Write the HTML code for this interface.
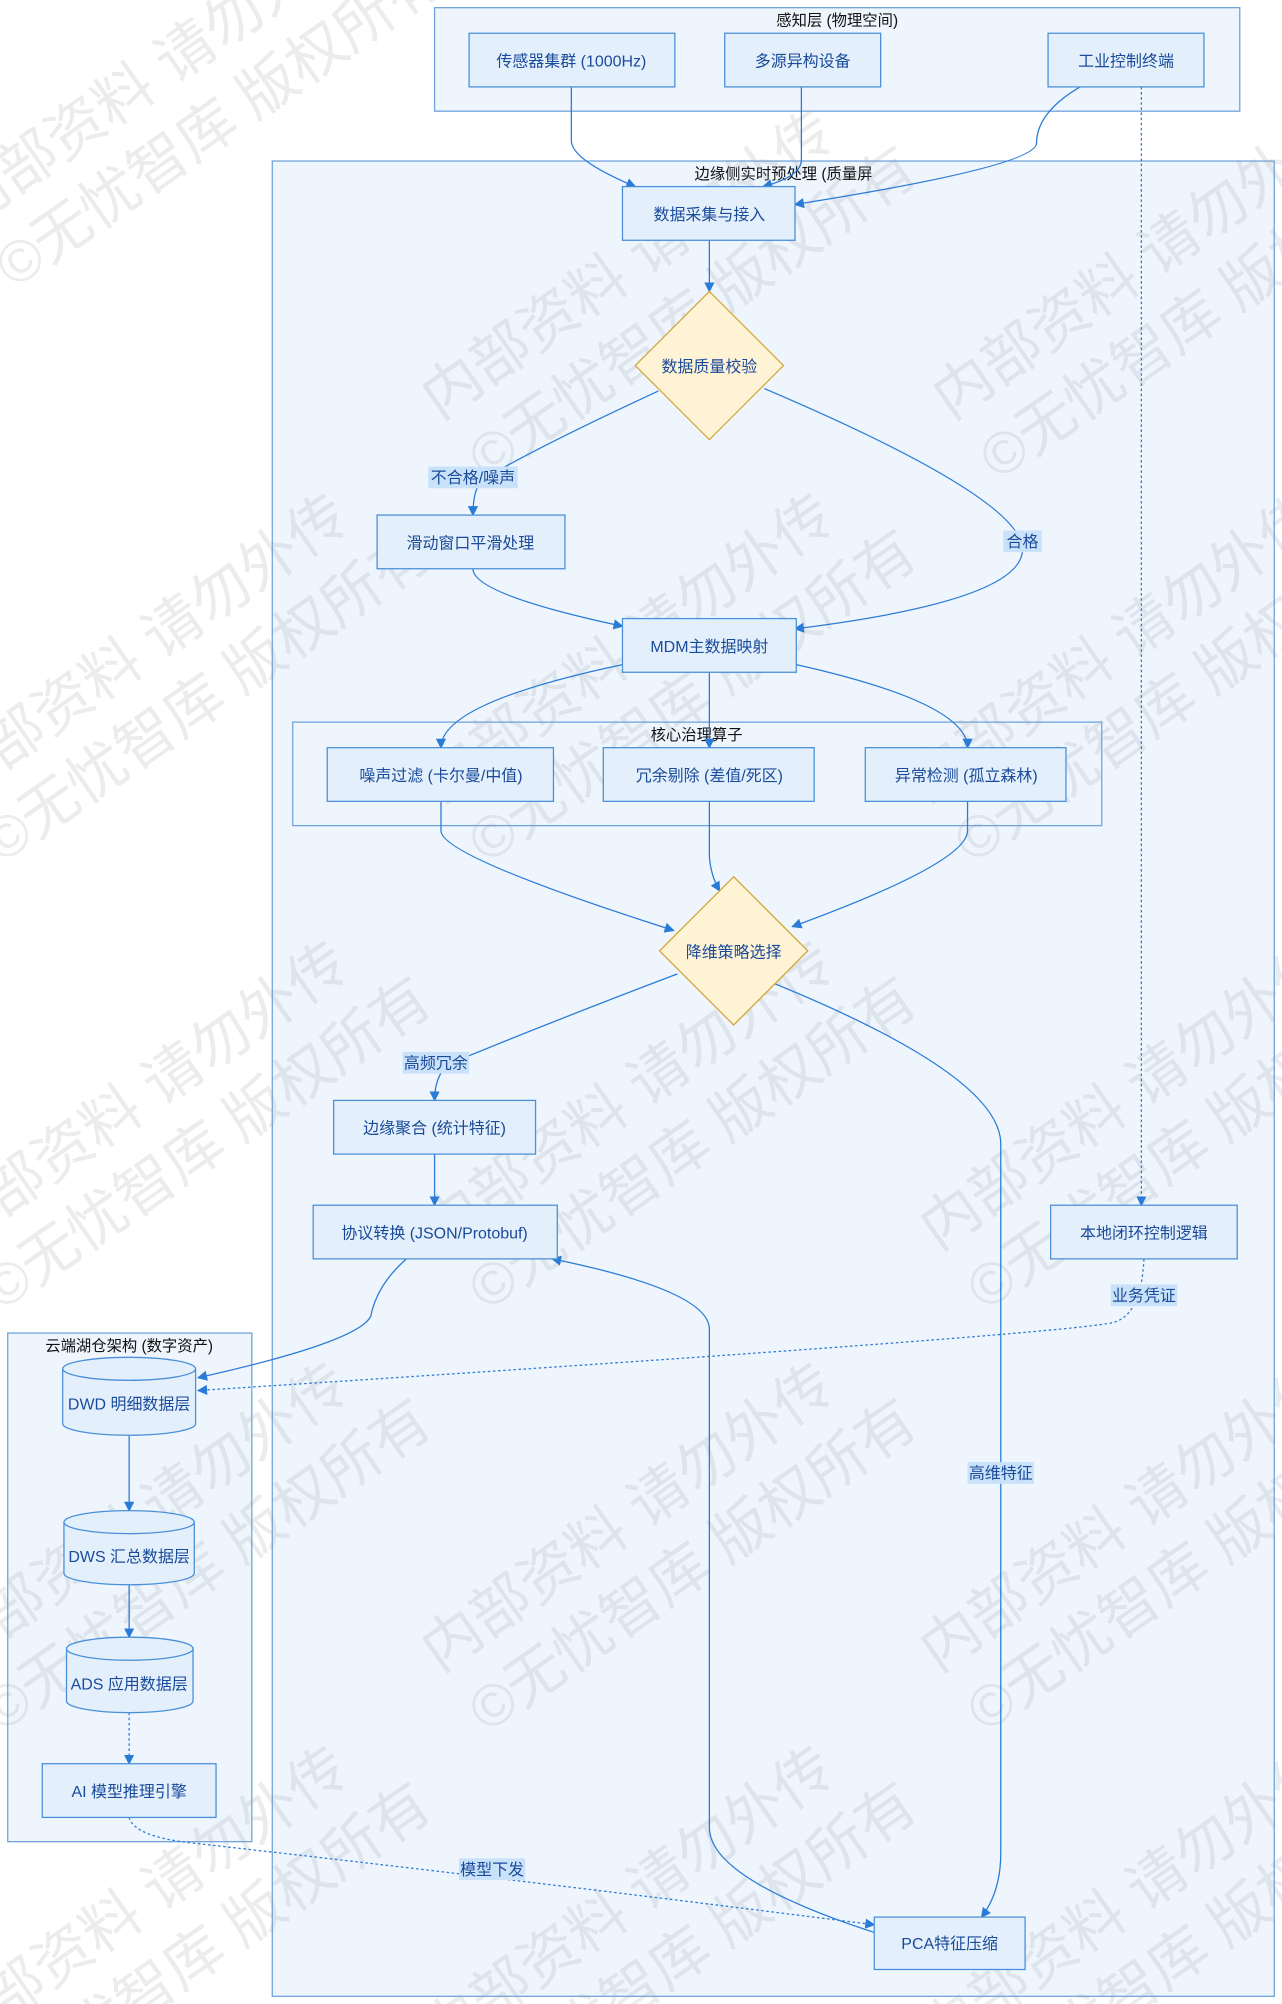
<!DOCTYPE html>
<html><head><meta charset="utf-8"><style>
html,body{margin:0;padding:0;background:#fff;width:1282px;height:2004px;overflow:hidden;}
svg{display:block;}
text{font-family:"Liberation Sans","Noto Sans CJK SC",sans-serif;}
</style></head><body>
<svg width="1282" height="2004" viewBox="0 0 1003 1568" xmlns="http://www.w3.org/2000/svg" style="overflow:hidden">
<defs>
<marker id="a" markerWidth="8" markerHeight="8" refX="7" refY="4" orient="auto" markerUnits="userSpaceOnUse"><path d="M0,0 L8,4 L0,8 z" fill="#2a7bd6"/></marker>
</defs>
<rect x="340" y="6" width="630" height="81" fill="#eef5fd" stroke="#6fa3dc" stroke-width="1"/>
<text x="655" y="20" font-size="12" text-anchor="middle" fill="#111">感知层 (物理空间)</text>
<rect x="213" y="126" width="784" height="1436" fill="#eef5fd" stroke="#6fa3dc" stroke-width="1"/>
<text x="613" y="140" font-size="12" text-anchor="middle" fill="#111">边缘侧实时预处理 (质量屏</text>
<rect x="229" y="565" width="633" height="81" fill="#eef5fd" stroke="#6fa3dc" stroke-width="1"/>
<text x="545" y="579" font-size="12" text-anchor="middle" fill="#111">核心治理算子</text>
<rect x="6" y="1043" width="191" height="398" fill="#eef5fd" stroke="#6fa3dc" stroke-width="1"/>
<text x="101" y="1057" font-size="12" text-anchor="middle" fill="#111">云端湖仓架构 (数字资产)</text>

<g font-size="46" fill="#9aa0a8" fill-opacity="0.2" text-anchor="middle">
<g transform="translate(130,70) rotate(-35)"><text x="0" y="0">内部资料 请勿外传</text><text x="20" y="60">©无忧智库 版权所有</text></g>
<g transform="translate(500,220) rotate(-35)"><text x="0" y="0">内部资料 请勿外传</text><text x="20" y="60">©无忧智库 版权所有</text></g>
<g transform="translate(900,220) rotate(-35)"><text x="0" y="0">内部资料 请勿外传</text><text x="20" y="60">©无忧智库 版权所有</text></g>
<g transform="translate(120,520) rotate(-35)"><text x="0" y="0">内部资料 请勿外传</text><text x="20" y="60">©无忧智库 版权所有</text></g>
<g transform="translate(500,520) rotate(-35)"><text x="0" y="0">内部资料 请勿外传</text><text x="20" y="60">©无忧智库 版权所有</text></g>
<g transform="translate(880,520) rotate(-35)"><text x="0" y="0">内部资料 请勿外传</text><text x="20" y="60">©无忧智库 版权所有</text></g>
<g transform="translate(120,870) rotate(-35)"><text x="0" y="0">内部资料 请勿外传</text><text x="20" y="60">©无忧智库 版权所有</text></g>
<g transform="translate(500,870) rotate(-35)"><text x="0" y="0">内部资料 请勿外传</text><text x="20" y="60">©无忧智库 版权所有</text></g>
<g transform="translate(890,870) rotate(-35)"><text x="0" y="0">内部资料 请勿外传</text><text x="20" y="60">©无忧智库 版权所有</text></g>
<g transform="translate(120,1200) rotate(-35)"><text x="0" y="0">内部资料 请勿外传</text><text x="20" y="60">©无忧智库 版权所有</text></g>
<g transform="translate(500,1200) rotate(-35)"><text x="0" y="0">内部资料 请勿外传</text><text x="20" y="60">©无忧智库 版权所有</text></g>
<g transform="translate(890,1200) rotate(-35)"><text x="0" y="0">内部资料 请勿外传</text><text x="20" y="60">©无忧智库 版权所有</text></g>
<g transform="translate(120,1500) rotate(-35)"><text x="0" y="0">内部资料 请勿外传</text><text x="20" y="60">©无忧智库 版权所有</text></g>
<g transform="translate(500,1500) rotate(-35)"><text x="0" y="0">内部资料 请勿外传</text><text x="20" y="60">©无忧智库 版权所有</text></g>
<g transform="translate(890,1500) rotate(-35)"><text x="0" y="0">内部资料 请勿外传</text><text x="20" y="60">©无忧智库 版权所有</text></g>
</g>

<g fill="none" stroke="#2a7bd6" stroke-width="1">
<path d="M447,68 L447,110 Q447,125 497,146" marker-end="url(#a)"/>
<path d="M627,68 L627,125 Q627,138 597,146" marker-end="url(#a)"/>
<path d="M845,68 Q811,88 811,112 Q811,130 622,160" marker-end="url(#a)"/>
<path d="M893,68 L893,943" stroke-dasharray="2,2" marker-end="url(#a)"/>
<path d="M555,188 L555,228" marker-end="url(#a)"/>
<path d="M515,306 Q420,350 378,375 Q370,382 370,403" marker-end="url(#a)"/>
<path d="M598,304 Q800,390 800,430 Q800,470 622,492" marker-end="url(#a)"/>
<path d="M370,445 Q370,465 487,490" marker-end="url(#a)"/>
<path d="M487,520 Q345,550 345,585" marker-end="url(#a)"/>
<path d="M555,526 L555,585" marker-end="url(#a)"/>
<path d="M623,520 Q757,550 757,585" marker-end="url(#a)"/>
<path d="M345,627 L345,650 Q345,670 527,728" marker-end="url(#a)"/>
<path d="M555,627 L555,670 Q556,685 563,697" marker-end="url(#a)"/>
<path d="M757,627 L757,650 Q757,675 620,725" marker-end="url(#a)"/>
<path d="M530,762 Q430,800 350,833 Q340,843 340,861" marker-end="url(#a)"/>
<path d="M592,764 Q783,840 783,895 L783,1450 Q783,1480 768,1500" marker-end="url(#a)"/>
<path d="M340,903 L340,943" marker-end="url(#a)"/>
<path d="M318,985 Q295,1005 290,1030 Q280,1050 155,1078" marker-end="url(#a)"/>
<path d="M684,1512 Q555,1470 555,1430 L555,1040 Q555,1010 432,985" marker-end="url(#a)"/>
<path d="M895,985 Q893,1030 870,1035 Q820,1045 155,1088" stroke-dasharray="2,2" marker-end="url(#a)"/>
<path d="M101,1123 L101,1182" marker-end="url(#a)"/>
<path d="M101,1240 L101,1281" marker-end="url(#a)"/>
<path d="M101,1340 L101,1380" stroke-dasharray="2,2" marker-end="url(#a)"/>
<path d="M101,1422 Q105,1437 150,1442 Q400,1470 684,1506" stroke-dasharray="2,2" marker-end="url(#a)"/>
</g>

<g fill="#e3f0fc" stroke="#4a90d9" stroke-width="1">
<rect x="367" y="26" width="161" height="42"/>
<rect x="567" y="26" width="122" height="42"/>
<rect x="820" y="26" width="122" height="42"/>
<rect x="487" y="146" width="135" height="42"/>
<rect x="295" y="403" width="147" height="42"/>
<rect x="487" y="484" width="136" height="42"/>
<rect x="256" y="585" width="177" height="42"/>
<rect x="472" y="585" width="165" height="42"/>
<rect x="677" y="585" width="157" height="42"/>
<rect x="261" y="861" width="158" height="42"/>
<rect x="245" y="943" width="191" height="42"/>
<rect x="822" y="943" width="146" height="42"/>
<rect x="33" y="1380" width="136" height="42"/>
<rect x="684" y="1500" width="118" height="41"/>
<path d="M49,1071 A52,9 0 0 1 153,1071 L153,1114 A52,9 0 0 1 49,1114 Z"/>
<path d="M49,1071 A52,9 0 0 0 153,1071" fill="none"/>
<path d="M50,1191 A51,9 0 0 1 152,1191 L152,1231 A51,9 0 0 1 50,1231 Z"/>
<path d="M50,1191 A51,9 0 0 0 152,1191" fill="none"/>
<path d="M52,1290 A49.5,9 0 0 1 151,1290 L151,1331 A49.5,9 0 0 1 52,1331 Z"/>
<path d="M52,1290 A49.5,9 0 0 0 151,1290" fill="none"/>
</g>
<g fill="#fff3d6" stroke="#d4a63a" stroke-width="1">
<path d="M555,228 L613,286 L555,344 L497,286 Z"/>
<path d="M574,686 L632,744 L574,802 L516,744 Z"/>
</g>

<g fill="#c9e2fa">
<rect x="335" y="365" width="70" height="17"/>
<rect x="785" y="415" width="30" height="17"/>
<rect x="315" y="823" width="52" height="17"/>
<rect x="869" y="1005" width="52" height="17"/>
<rect x="757" y="1144" width="52" height="17"/>
<rect x="359" y="1454" width="52" height="17"/>
</g>

<g font-size="12.5" fill="#1a4a9a" text-anchor="middle">
<text x="447" y="52">传感器集群 (1000Hz)</text>
<text x="628" y="52">多源异构设备</text>
<text x="881" y="52">工业控制终端</text>
<text x="555" y="172">数据采集与接入</text>
<text x="555" y="291">数据质量校验</text>
<text x="370" y="378">不合格/噪声</text>
<text x="368" y="429">滑动窗口平滑处理</text>
<text x="800" y="428">合格</text>
<text x="555" y="510">MDM主数据映射</text>
<text x="345" y="611">噪声过滤 (卡尔曼/中值)</text>
<text x="555" y="611">冗余剔除 (差值/死区)</text>
<text x="756" y="611">异常检测 (孤立森林)</text>
<text x="574" y="749">降维策略选择</text>
<text x="341" y="836">高频冗余</text>
<text x="340" y="887">边缘聚合 (统计特征)</text>
<text x="340" y="969">协议转换 (JSON/Protobuf)</text>
<text x="895" y="969">本地闭环控制逻辑</text>
<text x="895" y="1018">业务凭证</text>
<text x="783" y="1157">高维特征</text>
<text x="101" y="1103">DWD 明细数据层</text>
<text x="101" y="1222">DWS 汇总数据层</text>
<text x="101" y="1322">ADS 应用数据层</text>
<text x="101" y="1406">AI 模型推理引擎</text>
<text x="385" y="1467">模型下发</text>
<text x="743" y="1525">PCA特征压缩</text>
</g>
</svg>
</body></html>
